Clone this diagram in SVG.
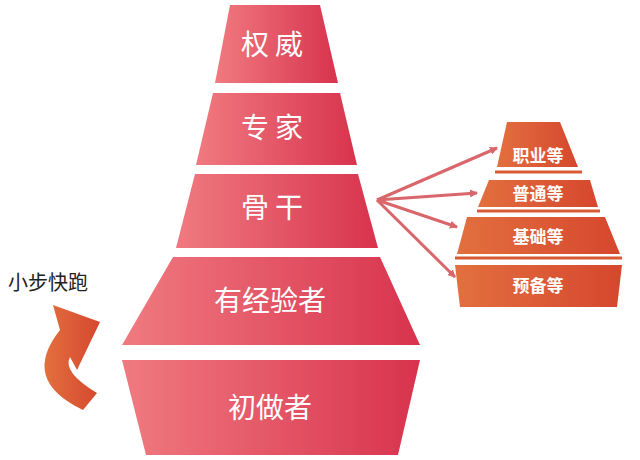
<svg xmlns="http://www.w3.org/2000/svg" width="640" height="460" viewBox="0 0 640 460">
<defs>
<linearGradient id="gr" x1="0" y1="0" x2="1" y2="0"><stop offset="0" stop-color="#f07a80"/><stop offset="1" stop-color="#d8334e"/></linearGradient>
<linearGradient id="go" x1="0" y1="0" x2="1" y2="0"><stop offset="0" stop-color="#e2703f"/><stop offset="1" stop-color="#d6472e"/></linearGradient>
<marker id="ah" markerWidth="8" markerHeight="8" refX="7" refY="4" orient="auto" markerUnits="userSpaceOnUse"><path d="M0,0 L8,4 L0,8 z" fill="#d9666a"/></marker>
<style>
.t{font-family:"Noto Sans CJK SC",sans-serif;fill:#fff;text-anchor:middle}
.big{font-size:28px}
.sp{letter-spacing:6px}
.sm{font-size:17px;font-weight:bold}
.sep{stroke:url(#gr);stroke-width:3}
.sepo{stroke:#d85a34;stroke-width:3}
.con{stroke:#d9666a;stroke-width:3;fill:none}
</style>
</defs>
<g id="n1"><polygon points="230,5 320,5 338,83 215,83" fill="url(#gr)"/><text class="t big sp" x="275" y="55">权威</text></g>
<line class="sep" x1="213" y1="88" x2="340" y2="88"/>
<g id="n2"><polygon points="213,93 340,93 357,165 196,165" fill="url(#gr)"/><text class="t big sp" x="275" y="138">专家</text></g>
<line class="sep" x1="194" y1="169" x2="359" y2="169"/>
<g id="n3"><polygon points="195,174 358,174 378,248 176,248" fill="url(#gr)"/><text class="t big sp" x="275" y="218">骨干</text></g>
<line class="sep" x1="174" y1="252" x2="380" y2="252"/>
<g id="n4"><polygon points="173,257 380,257 420,345 122,345" fill="url(#gr)"/><text class="t big" x="270" y="311">有经验者</text></g>
<line class="sep" x1="120" y1="352" x2="422" y2="352"/>
<g id="n5"><polygon points="122,360 420,360 398,455 146,455" fill="url(#gr)"/><text class="t big" x="270" y="418">初做者</text></g>

<g id="s1"><polygon points="507,122 560,122 578,167 497,167" fill="url(#go)"/><text class="t sm" x="538" y="162">职业等</text></g>
<line class="sepo" x1="495" y1="172" x2="582" y2="172"/>
<g id="s2"><polygon points="489,180 590,180 598,207 478,207" fill="url(#go)"/><text class="t sm" x="538" y="200">普通等</text></g>
<line class="sepo" x1="477" y1="211" x2="600" y2="211"/>
<g id="s3"><polygon points="467,217 605,217 620,254 457,254" fill="url(#go)"/><text class="t sm" x="538" y="243">基础等</text></g>
<line class="sepo" x1="455" y1="258" x2="622" y2="258"/>
<g id="s4"><polygon points="455,265 622,265 617,307 460,307" fill="url(#go)"/><text class="t sm" x="538" y="292">预备等</text></g>

<g id="connectors">
<line class="con" x1="377" y1="200" x2="497" y2="148" marker-end="url(#ah)"/>
<line class="con" x1="377" y1="200" x2="477" y2="193" marker-end="url(#ah)"/>
<line class="con" x1="377" y1="200" x2="457" y2="227" marker-end="url(#ah)"/>
<line class="con" x1="377" y1="200" x2="455" y2="277" marker-end="url(#ah)"/>
</g>

<g id="label"><text x="8" y="290" font-family="Noto Sans CJK SC,sans-serif" font-size="20" fill="#222">小步快跑</text></g>
<g id="curve"><path d="M53,305 L100,322 L77,370 L70,357 Q62,372 97,393 L83,410 Q20,380 60,330 Z" fill="url(#go)"/></g>
</svg>
